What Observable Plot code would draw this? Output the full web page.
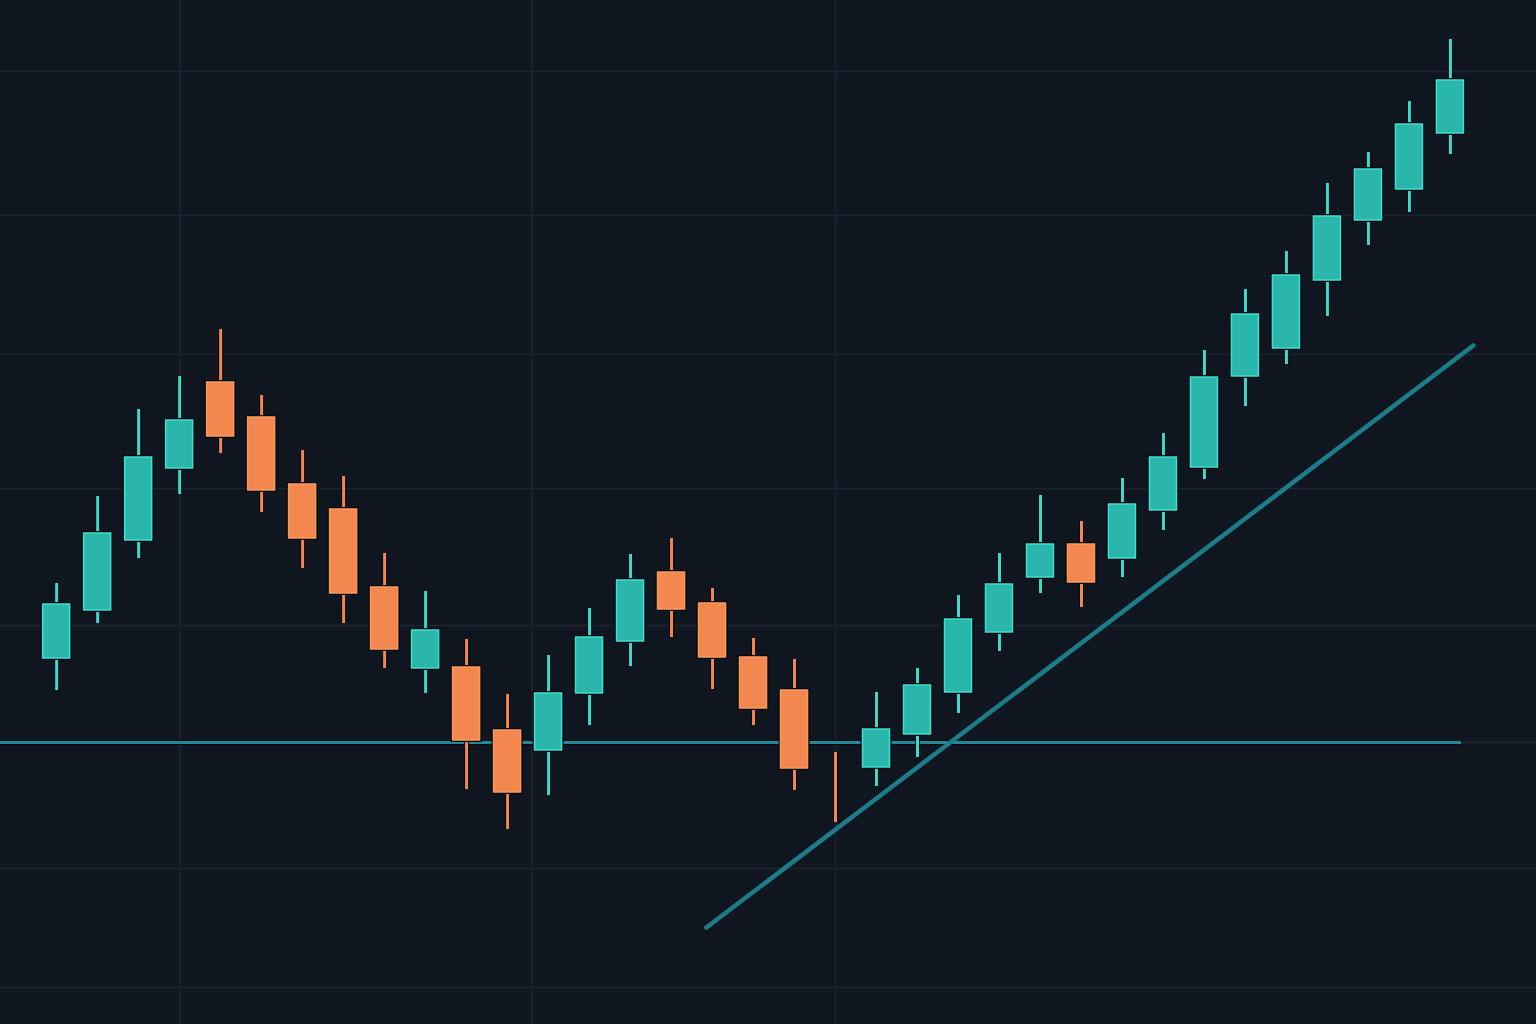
<!DOCTYPE html>
<html>
<head>
<meta charset="utf-8">
<script src="https://cdn.jsdelivr.net/npm/d3@7"></script>
<script src="https://cdn.jsdelivr.net/npm/@observablehq/plot@0.6"></script>
<style>
  html, body { margin: 0; padding: 0; background: #0f1620; }
  #chart { width: 1536px; height: 1024px; overflow: hidden; }
</style>
</head>
<body>
<div id="chart"></div>
<script>
// Candle index (session number)
const session = d3.range(35);
// OHLC values (price units)
const openV  = [36.6,41.4,48.4,55.6,64.2,60.7,54.0,51.5,43.7,35.6,35.7,29.4,27.4,33.1,38.3,45.2,42.1,36.7,33.4,25.0,25.7,29.0,33.2,39.2,44.7,48.0,46.6,51.4,55.7,64.8,67.6,74.4,80.4,83.5,89.1];
const highV  = [44.1,52.8,61.5,64.8,69.5,62.9,57.4,54.8,47.1,43.3,38.5,33.0,36.9,41.6,47.0,48.6,43.6,38.6,36.5,27.2,33.2,35.6,42.9,47.1,52.9,50.3,54.6,59.1,67.4,73.5,77.3,84.1,87.2,92.3,98.5];
const lowV   = [33.4,40.1,46.6,53.0,57.1,51.2,45.6,40.1,35.6,33.1,23.5,19.5,22.9,29.9,35.8,38.7,33.5,29.9,23.4,20.2,23.8,26.7,31.1,37.3,43.1,41.7,44.7,49.4,54.5,61.8,66.0,70.8,77.9,81.2,87.0];
const closeV = [42.0,49.1,56.7,60.4,58.8,53.4,48.6,43.1,37.5,39.4,28.4,23.2,33.1,38.7,44.4,41.5,36.7,31.6,25.6,25.0,29.5,33.9,40.5,44.0,48.0,44.2,52.0,56.7,64.7,71.0,74.9,80.8,85.5,90.0,94.4];

// Support level and rising trend line
const supportLevel = [28.2];
const supportEnd = 34.27;
const trendI = [15.85, 34.56];
const trendP = [9.7, 67.9];

// Grid lines
const gridY = [95.3, 80.9, 67.0, 53.6, 39.9, 28.2, 15.6, 3.7];
const gridX = [3, 11.6, 19];

const xDomain = [-1.37, 36.1];
const yDomain = [0, 102.4];

const candles = session.map((i, k) => ({
  i, open: openV[k], high: highV[k], low: lowV[k], close: closeV[k],
  up: closeV[k] >= openV[k] && closeV[k] !== openV[k]
}));
const bodies = candles.filter(d => d.open !== d.close);
const trend = trendI.map((i, k) => ({i, p: trendP[k]}));

const tealFill = "#2bb6ac", tealEdge = "#3fe0d2";
const orFill = "#f4874f", orEdge = "#f89a5e";
const half = 0.33;

const chart = Plot.plot({
  width: 1536,
  height: 1024,
  margin: 0,
  x: {domain: xDomain, axis: null},
  y: {domain: yDomain, axis: null},
  style: {background: "#0f1620", overflow: "hidden"},
  marks: [
    Plot.ruleY(gridY, {stroke: "#1c2530", strokeWidth: 1.5}),
    Plot.ruleX(gridX, {stroke: "#1c2530", strokeWidth: 1.5}),
    Plot.ruleY(supportLevel, {x1: xDomain[0], x2: supportEnd, stroke: "#050a0f", strokeWidth: 5}),
    Plot.ruleY(supportLevel, {x1: xDomain[0], x2: supportEnd, stroke: "#22899a", strokeWidth: 3}),
    Plot.line(trend, {x: "i", y: "p", stroke: "#1c7d88", strokeWidth: 4.5, strokeLinecap: "round"}),
    // wick outlines + wicks
    Plot.ruleX(candles, {x: "i", y1: "low", y2: "high", stroke: "#05090d", strokeWidth: 5}),
    Plot.ruleX(candles, {x: "i", y1: "low", y2: "high", stroke: d => d.up ? "#38dccf" : orFill, strokeWidth: 3}),
    // body outlines + bodies
    Plot.rect(bodies, {x1: d => d.i - half, x2: d => d.i + half, y1: "open", y2: "close", fill: "#05090d", stroke: "#05090d", strokeWidth: 4}),
    Plot.rect(bodies, {x1: d => d.i - half, x2: d => d.i + half, y1: "open", y2: "close",
      fill: d => d.up ? tealFill : orFill, stroke: d => d.up ? tealEdge : orEdge, strokeWidth: 1.5})
  ]
});
document.getElementById("chart").appendChild(chart);
</script>
</body>
</html>
